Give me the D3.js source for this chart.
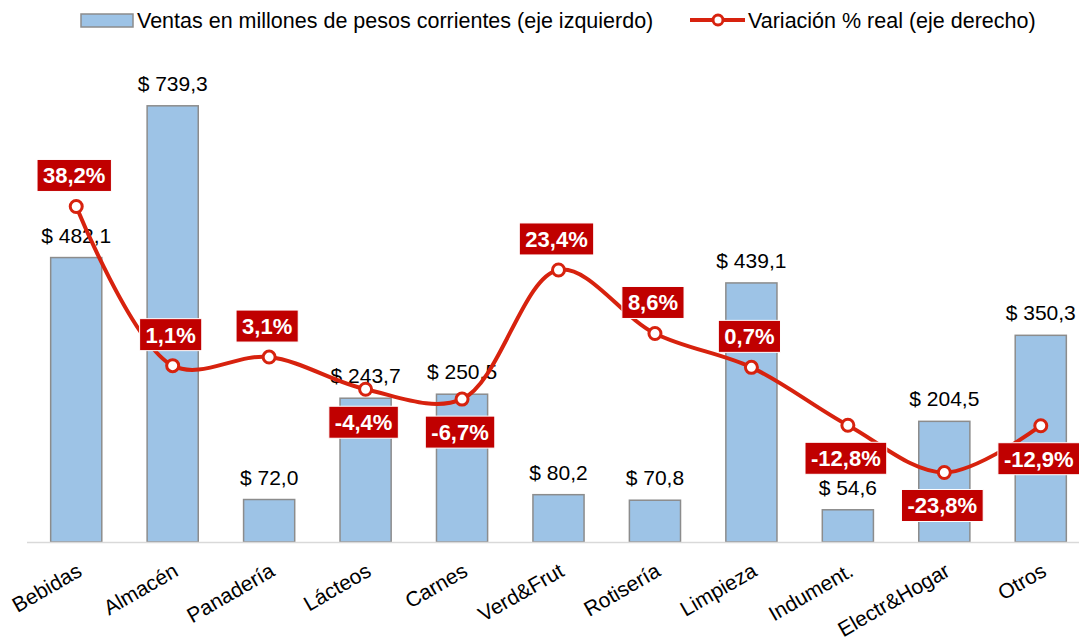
<!DOCTYPE html>
<html>
<head>
<meta charset="utf-8">
<script src="https://cdn.jsdelivr.net/npm/d3@7"></script>
<style>
  body { margin: 0; background: #fff; }
  svg { font-family: "Liberation Sans", Arial, sans-serif; }
</style>
</head>
<body>
<div id="chart"></div>
<script>
const categories = ['Bebidas', 'Almacén', 'Panadería', 'Lácteos', 'Carnes', 'Verd&Frut', 'Rotisería', 'Limpieza', 'Indument.', 'Electr&Hogar', 'Otros'];
const ventas = [482.1, 739.3, 72.0, 243.7, 250.5, 80.2, 70.8, 439.1, 54.6, 204.5, 350.3];
const variacion = [38.2, 1.1, 3.1, -4.4, -6.7, 23.4, 8.6, 0.7, -12.8, -23.8, -12.9];

const width = 1079;
const height = 642;
const plotTop = 70, plotBottom = 542;

const fmt = v => v.toFixed(1).replace('.', ',');

const svg = d3.select('#chart')
    .append('svg')
    .attr('width', width)
    .attr('height', height);

const x = d3.scaleBand()
    .domain(categories)
    .range([28, 1089])
    .paddingInner(0.47)
    .paddingOuter(0.235);

const yL = d3.scaleLinear().domain([0, 800]).range([plotBottom, plotTop]);
const yR = d3.scaleLinear().domain([-40, 70]).range([plotBottom, plotTop]);

const cx = d => x(d) + x.bandwidth() / 2;

// barras
svg.selectAll('rect.bar')
    .data(categories)
    .enter()
    .append('rect')
    .attr('class', 'bar')
    .attr('x', d => x(d))
    .attr('y', (d, i) => yL(ventas[i]))
    .attr('width', x.bandwidth())
    .attr('height', (d, i) => plotBottom - yL(ventas[i]))
    .attr('fill', '#9dc3e6')
    .attr('stroke', '#8c8c8c')
    .attr('stroke-width', 1.5);

// linea base
svg.append('line')
    .attr('x1', 27).attr('x2', width)
    .attr('y1', plotBottom + 0.5).attr('y2', plotBottom + 0.5)
    .attr('stroke', '#d9d9d9')
    .attr('stroke-width', 1.5);

// etiquetas de barras
svg.selectAll('text.val')
    .data(categories)
    .enter()
    .append('text')
    .attr('class', 'val')
    .attr('x', d => cx(d))
    .attr('y', (d, i) => yL(ventas[i]) - 15)
    .attr('text-anchor', 'middle')
    .attr('font-size', 21)
    .attr('fill', '#000')
    .text((d, i) => '$ ' + fmt(ventas[i]));

// eje x
svg.selectAll('text.cat')
    .data(categories)
    .enter()
    .append('text')
    .attr('class', 'cat')
    .attr('transform', d => `translate(${cx(d) + 7},${plotBottom + 33}) rotate(-30)`)
    .attr('text-anchor', 'end')
    .attr('font-size', 21)
    .attr('fill', '#000')
    .text(d => d);

// linea de variacion
const line = d3.line()
    .curve(d3.curveCatmullRom.alpha(0.5))
    .x(d => cx(d[0]))
    .y(d => yR(d[1]));

const pts = categories.map((c, i) => [c, variacion[i]]);

svg.append('path')
    .datum(pts)
    .attr('fill', 'none')
    .attr('stroke', '#d7220e')
    .attr('stroke-width', 4)
    .attr('stroke-linejoin', 'round')
    .attr('d', line);

svg.selectAll('circle.pt')
    .data(pts)
    .enter()
    .append('circle')
    .attr('class', 'pt')
    .attr('cx', d => cx(d[0]))
    .attr('cy', d => yR(d[1]))
    .attr('r', 6)
    .attr('fill', '#fff')
    .attr('stroke', '#d7220e')
    .attr('stroke-width', 3);

// etiquetas de variacion
const lab = svg.selectAll('g.pct')
    .data(pts)
    .enter()
    .append('g')
    .attr('class', 'pct')
    .attr('transform', d => `translate(${cx(d[0]) - 2},${yR(d[1]) + (d[1] < 0 ? 33 : -31)})`);

lab.append('text')
    .attr('text-anchor', 'middle')
    .attr('dy', '0.36em')
    .attr('font-size', 22)
    .attr('font-weight', 'bold')
    .attr('fill', '#fff')
    .text(d => fmt(d[1]) + '%')
    .each(function () {
        const b = this.getBBox();
        d3.select(this.parentNode).insert('rect', 'text')
            .attr('x', b.x - 6)
            .attr('y', -16)
            .attr('width', b.width + 12)
            .attr('height', 32)
            .attr('fill', '#c00000')
            .attr('stroke', '#fff')
            .attr('stroke-width', 1);
    });

// leyenda
const leg = svg.append('g');
leg.append('rect')
    .attr('x', 81).attr('y', 14)
    .attr('width', 52).attr('height', 13)
    .attr('fill', '#9dc3e6')
    .attr('stroke', '#8c8c8c')
    .attr('stroke-width', 1.5);
leg.append('text')
    .attr('x', 137).attr('y', 20)
    .attr('dy', '0.35em')
    .attr('font-size', 21.5)
    .text('Ventas en millones de pesos corrientes (eje izquierdo)');
leg.append('line')
    .attr('x1', 690).attr('x2', 745)
    .attr('y1', 20).attr('y2', 20)
    .attr('stroke', '#d7220e')
    .attr('stroke-width', 4);
leg.append('circle')
    .attr('cx', 718).attr('cy', 20).attr('r', 5)
    .attr('fill', '#fff')
    .attr('stroke', '#d7220e')
    .attr('stroke-width', 3);
leg.append('text')
    .attr('x', 748).attr('y', 20)
    .attr('dy', '0.35em')
    .attr('font-size', 21.5)
    .text('Variación % real (eje derecho)');
</script>
</body>
</html>
